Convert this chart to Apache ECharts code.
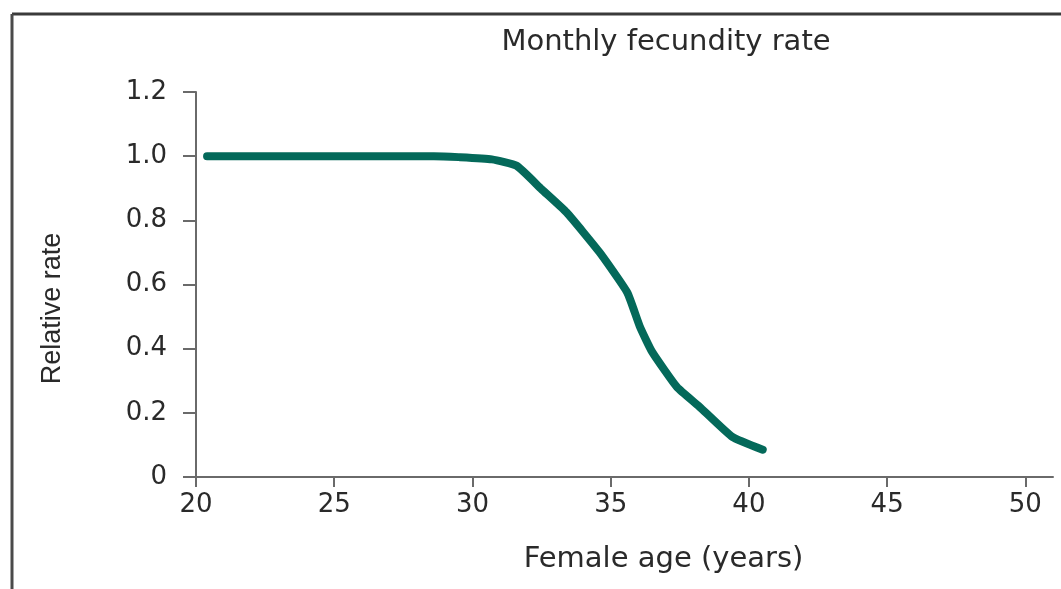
<!DOCTYPE html>
<html><head><meta charset="utf-8">
<script src="https://cdn.jsdelivr.net/npm/echarts@6/dist/echarts.min.js"></script>
<style>html,body{margin:0;padding:0;background:#fff}#c{width:1061px;height:589px}</style>
</head><body><div id="c"></div>
<script>
const titleText = 'Monthly fecundity rate';
const xName = 'Female age (years)';
const yName = 'Relative rate';
const xTicks = [20, 25, 30, 35, 40, 45, 50];
const ages = [20.4, 25, 28.6, 29.5, 30.7, 31.6, 32.5, 33.4, 34.6, 35.6, 36.05, 36.5, 37.4, 38.2, 39.4, 40.5];
const rates = [1.0, 1.0, 1.0, 0.997, 0.99, 0.97, 0.897, 0.825, 0.70, 0.575, 0.47, 0.39, 0.28, 0.22, 0.125, 0.085];

const font = 'DejaVu Sans';
const chart = echarts.init(document.getElementById('c'));
chart.setOption({
  animation: false,
  backgroundColor: '#fff',
  title: {
    text: titleText, left: 661, top: 23, textAlign: 'center',
    textStyle: { fontFamily: font, fontSize: 29, fontWeight: 'normal', color: '#2a2a2a' }
  },
  grid: { left: 196, right: 8, top: 92, bottom: 112, containLabel: false },
  xAxis: {
    type: 'value', min: 20, max: 51, interval: 5,
    name: xName, nameLocation: 'middle', nameGap: 68,
    nameTextStyle: { fontFamily: font, fontSize: 29, color: '#2a2a2a', padding: [0, 0, 0, 78] },
    axisLine: { show: true, onZero: false, lineStyle: { color: '#6a6a6a', width: 2 } },
    axisTick: { show: true, inside: false, length: 10, customValues: xTicks, lineStyle: { color: '#6a6a6a', width: 2 } },
    axisLabel: { customValues: xTicks, margin: 15, fontFamily: font, fontSize: 26, color: '#2a2a2a' },
    splitLine: { show: false }
  },
  yAxis: {
    type: 'value', min: 0, max: 1.2, interval: 0.2,
    name: yName, nameLocation: 'middle', nameGap: 130, nameRotate: 90,
    nameTextStyle: { fontFamily: 'Liberation Sans', fontSize: 27, color: '#2a2a2a', padding: [0, 48, 0, 0] },
    axisLine: { show: true, lineStyle: { color: '#6a6a6a', width: 2 } },
    axisTick: { show: true, inside: false, length: 13, lineStyle: { color: '#6a6a6a', width: 2 } },
    axisLabel: {
      margin: 29, fontFamily: font, fontSize: 26, color: '#2a2a2a',
      formatter: v => v === 0 ? '0' : v.toFixed(1)
    },
    splitLine: { show: false }
  },
  series: [{
    type: 'line', data: ages.map((a, i) => [a, rates[i]]),
    smooth: 0.15, symbol: 'none',
    lineStyle: { color: '#04695a', width: 8, cap: 'round', join: 'round' }
  }],
  graphic: [
    { type: 'line', shape: { x1: 12, y1: 14, x2: 1061, y2: 14 }, style: { stroke: '#3a3a3a', lineWidth: 3 } },
    { type: 'line', shape: { x1: 12, y1: 14, x2: 12, y2: 589 }, style: { stroke: '#4a4a4a', lineWidth: 3 } }
  ]
});
</script></body></html>
